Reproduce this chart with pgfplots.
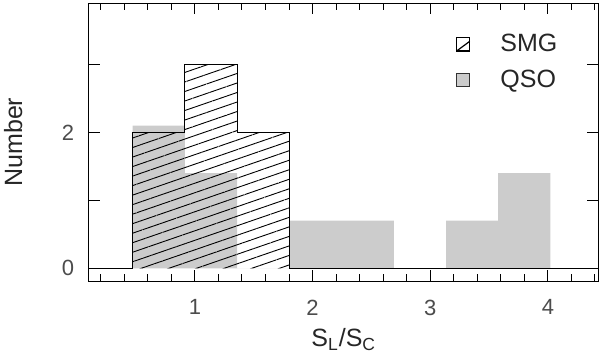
\documentclass[border=0pt]{standalone}
\usepackage{fontspec}
\setmainfont{Liberation Sans}
\usepackage{pgfplots}
\pgfplotsset{compat=1.18}
\usetikzlibrary{patterns.meta}
\definecolor{qsogray}{RGB}{204,204,204}
\begin{document}
\begin{tikzpicture}
\begin{axis}[
  scale only axis, width=254.75pt, height=138.85pt,
  xmin=0.1, xmax=4.43, ymin=-0.187, ymax=3.9,
  xtick={1,2,3,4},
  minor xtick={0.2,0.4,0.6,0.8,1.2,1.4,1.6,1.8,2.2,2.4,2.6,2.8,3.2,3.4,3.6,3.8,4.2,4.4},
  ytick={0,1,2,3}, yticklabels={0,,2,},
  tick align=inside, major tick length=5.5pt, minor tick length=3.5pt,
  every tick/.style={black, line width=0.5pt},
  axis line style={line width=0.5pt},
  /pgf/number format/assume math mode=true,
  tick label style={font=\fontsize{11}{13}\selectfont, text=black!70},
  xticklabel style={yshift=-5.8pt},
  yticklabel style={xshift=-3.9pt},
  every axis x label/.style={at={(axis description cs:0.5,-0.2374)}, anchor=base},
  every axis y label/.style={at={(axis description cs:-0.1315,0.5)}, rotate=90, anchor=base},
  label style={font=\fontsize{12.5}{15}\selectfont, text=black!85},
  xlabel={S\textsubscript{L}/S\textsubscript{C}},
  ylabel={Number},
  legend style={at={(axis description cs:0.7203,0.889)}, anchor=north west,
    draw=none, fill=none, inner sep=0pt, outer sep=0pt,
    column sep=15pt, row sep=7.5pt,
    nodes={inner sep=0pt, font=\fontsize{12.5}{15}\selectfont, text=black!85}},
  legend cell align=left,
]
% QSO histogram (gray, no outline)
\addplot[ybar interval, fill=qsogray, draw=none, forget plot] coordinates {
  (0.470,2.1) (0.914,1.4) (1.358,0) (1.802,0.7) (2.246,0.7)
  (2.690,0) (3.134,0.7) (3.578,1.4) (4.022,1.4)
};
% SMG histogram hatching
\addplot[const plot, draw=none, forget plot,
  pattern={Lines[angle=19,distance=4.5pt,line width=0.45pt]}] coordinates {
  (0.470,2) (0.914,3) (1.358,2) (1.802,2)
} \closedcycle;
% SMG outline
\addplot[const plot, black, line width=0.5pt, forget plot] coordinates {
  (0.1,0) (0.470,2) (0.914,3) (1.358,2) (1.802,0) (4.43,0)
};
\addlegendimage{legend image code/.code={
  \draw[black, line width=0.7pt] (0pt,-3.3pt) rectangle (6.5pt,3.3pt);
  \draw[black, line width=0.6pt] (0pt,-3.3pt) -- (6.5pt,1.5pt);}}
\addlegendentry{SMG}
\addlegendimage{legend image code/.code={
  \draw[black!80, fill=qsogray, line width=0.7pt] (0pt,-3.3pt) rectangle (6.5pt,3.3pt);}}
\addlegendentry{QSO}
\end{axis}
\pgfresetboundingbox
\useasboundingbox ([xshift=-44.5pt,yshift=-37pt]current axis.south west) rectangle ([xshift=0.75pt,yshift=1.65pt]current axis.north east);
\end{tikzpicture}
\end{document}
